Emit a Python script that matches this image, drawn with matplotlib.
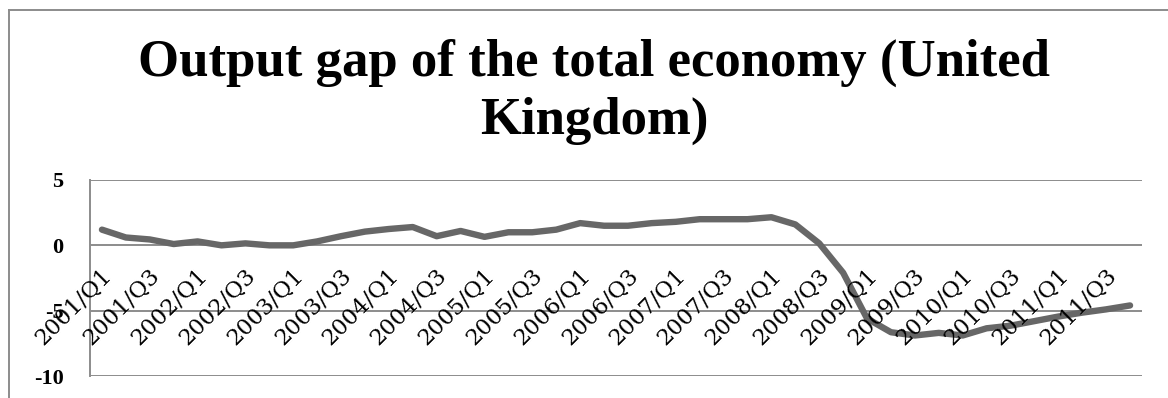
import matplotlib
matplotlib.use("Agg")
import matplotlib.pyplot as plt
from matplotlib import transforms
from matplotlib.lines import Line2D

# Quarterly output gap, % of potential output
years = list(range(2001, 2012))
quarters = ["Q1", "Q2", "Q3", "Q4"]
categories = [f"{y}/{q}" for y in years for q in quarters]
output_gap = [
    1.2, 0.6, 0.45, 0.1,      # 2001
    0.3, 0.0, 0.15, 0.0,      # 2002
    0.0, 0.3, 0.7, 1.05,      # 2003
    1.25, 1.4, 0.7, 1.1,      # 2004
    0.65, 1.0, 1.0, 1.2,      # 2005
    1.7, 1.5, 1.5, 1.7,       # 2006
    1.8, 2.0, 2.0, 2.0,       # 2007
    2.15, 1.6, 0.15, -2.1,    # 2008
    -5.6, -6.65, -6.9, -6.7,  # 2009
    -6.9, -6.35, -6.15, -5.8, # 2010
    -5.45, -5.15, -4.9, -4.6, # 2011
]
y_ticks = [-10, -5, 0, 5]
title_lines = ["Output gap of the total economy (United", "Kingdom)"]

W, H = 1168, 398
fig = plt.figure(figsize=(W / 100, H / 100), dpi=100)
fig.patch.set_facecolor("white")

grid_col = "#8c8c8c"
serif = ["Liberation Serif", "DejaVu Serif"]
label_font = ["DejaVu Serif"]

# chart-area border (top and left edges)
fig.add_artist(Line2D([9 / W, 9 / W], [0, 1 - 10 / H], color=grid_col, lw=1.4))
fig.add_artist(Line2D([9 / W, 1], [1 - 10 / H, 1 - 10 / H], color=grid_col, lw=1.4))

left, right = 90 / W, 1142 / W
bottom, top = 1 - 376 / H, 1 - 180 / H
ax = fig.add_axes([left, bottom, right - left, top - bottom])

x = list(range(len(categories)))
ax.plot(x, output_gap, color="#676767", lw=4.6, solid_joinstyle="round",
        solid_capstyle="round", zorder=3, clip_on=False)

ax.set_xlim(-0.5, len(categories) - 0.5)
ax.set_ylim(-10, 5)
ax.set_yticks(y_ticks)
ax.set_yticklabels([str(v) for v in y_ticks], fontfamily=serif,
                   fontsize=16, fontweight="bold")
ax.tick_params(axis="y", length=0, pad=19)
ax.set_xticks([])
ax.yaxis.grid(True, color=grid_col, lw=1.4)
ax.set_axisbelow(True)
for side in ["top", "right", "bottom"]:
    ax.spines[side].set_visible(False)
ax.spines["left"].set_color(grid_col)
ax.spines["left"].set_linewidth(1.4)

# category labels sit just below the zero line, every second quarter
label_tr = transforms.offset_copy(ax.transData, fig=fig, x=7, y=-27, units="dots")
for i, lab in enumerate(categories):
    if i % 2 == 0:
        ax.text(i, 0, lab, transform=label_tr, rotation=45, rotation_mode="anchor",
                ha="right", va="center", fontsize=16.3, fontfamily=label_font,
                color="black", clip_on=False, zorder=4)

cx = 594 / W
fig.text(cx, 1 - 76 / H, title_lines[0], ha="center", va="baseline",
         fontsize=38, fontweight="bold", fontfamily=serif)
fig.text(cx, 1 - 134 / H, title_lines[1], ha="center", va="baseline",
         fontsize=38, fontweight="bold", fontfamily=serif)

fig.savefig("out.png", dpi=100, facecolor="white")
